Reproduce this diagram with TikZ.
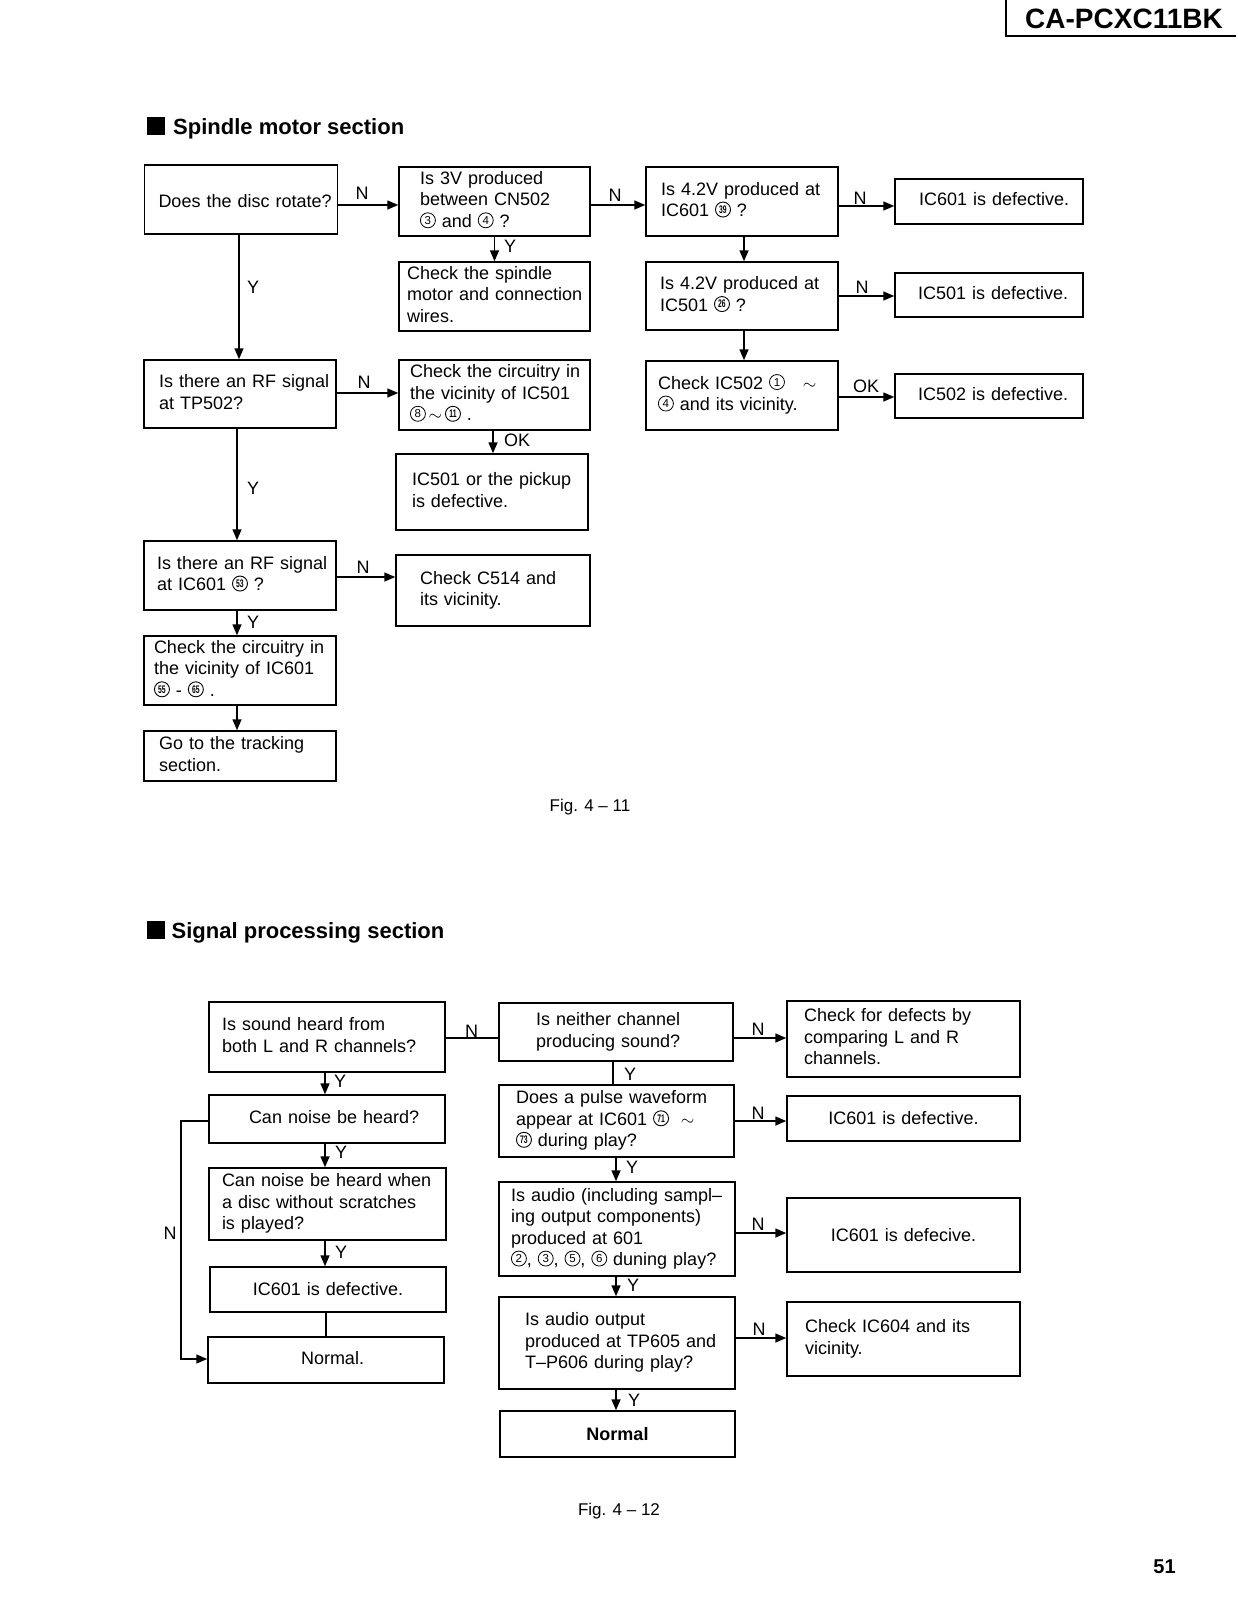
\documentclass[tikz,border=0pt]{standalone}
\usepackage{fontspec}
\setmainfont{Liberation Sans}
\usetikzlibrary{arrows.meta}
\newcommand\bodyfont{\fontsize{18}{21.5}\selectfont}
\newcommand\lines[1]{\noindent\begin{tabular}{@{}l@{}}#1\end{tabular}}
\newcommand\cnum[1]{\tikz[baseline={([yshift=-7pt]cc.center)}]\node[circle,draw,line width=0.8pt,inner sep=0pt,minimum size=15pt,text width=,align=center,anchor=center,font=\fontsize{11.5}{11.5}\selectfont](cc){#1};}
\newcommand\cnn[1]{\tikz[baseline={([yshift=-7pt]cc.center)}]\node[circle,draw,line width=0.9pt,inner sep=0pt,minimum size=15pt,text width=,align=center,anchor=center,font=\bfseries\fontsize{11}{11}\selectfont](cc){\scalebox{0.62}[1]{#1}};}
\tikzset{
  bx/.code n args={3}{\pgfmathsetmacro\tw{#1-2*#3}\edef\tmp{\noexpand\tikzset{text width=\tw pt}}\tmp
    \tikzset{draw,line width=1.5pt,rectangle,minimum width=#1pt,minimum height=#2pt,inner xsep=#3pt,inner ysep=1pt,align=left,font=\bodyfont}},
  cbx/.code 2 args={\pgfmathsetmacro\tw{#1-12}\edef\tmp{\noexpand\tikzset{text width=\tw pt}}\tmp
    \tikzset{draw,line width=1.5pt,rectangle,minimum width=#1pt,minimum height=#2pt,inner xsep=6pt,inner ysep=1pt,align=center,font=\bodyfont}},
  arr/.style={line width=1.5pt,-{Triangle[length=11pt,width=9pt]}},
  conn/.style={line width=1.5pt},
  lab/.style={font=\bodyfont,inner sep=0pt},
  ttl/.style={anchor=base west,inner sep=0pt,font=\bfseries\fontsize{22}{26}\selectfont},
  sq/.style={fill=black,minimum size=18pt,inner sep=0pt},
}
\begin{document}
\begin{tikzpicture}[x=1pt,y=-1pt]
\useasboundingbox (0,0) rectangle (1237,1600);

% header
\draw[line width=1.2pt] (1006,0) -- (1006,36) -- (1236,36);
\node[inner sep=0pt,font=\bfseries\fontsize{28}{30}\selectfont] (hdr) at (1124,19) {CA-PCXC11BK};

% ---------- Spindle motor section ----------
\node[sq] (sq1) at (156,126.5) {};
\node[ttl] (t1) at (173,134.5) {Spindle motor section};

\node[bx={193}{69}{14}] (A) at (241,199.5) {\lines{\raisebox{-4pt}{Does the disc rotate?}}};
\node[bx={191}{69}{21}] (B) at (494.5,201.5) {\lines{Is 3V produced\\between CN502\\\cnum{3} and \cnum{4} ?}};
\node[bx={191}{69}{8}] (C) at (494.5,296.5) {\lines{Check the spindle\\motor and connection\\wires.}};
\node[bx={192}{68}{15}] (D) at (240,394) {\lines{Is there an RF signal\\at TP502?}};
\node[bx={191}{70}{11}] (E) at (494.5,395) {\lines{Check the circuitry in\\the vicinity of IC501\\\cnum{8}$\,\sim\,$\cnn{11} .}};
\node[bx={192}{76}{16}] (M) at (492,492) {\lines{IC501 or the pickup\\is defective.}};
\node[bx={192}{69}{13}] (L) at (240,575.5) {\lines{Is there an RF signal\\at IC601 \cnn{53} ?}};
\node[bx={194}{71}{24}] (N) at (493,590.5) {\lines{Check C514 and\\its vicinity.}};
\node[bx={192}{69}{10}] (O) at (240,670.5) {\lines{Check the circuitry in\\the vicinity of IC601\\\cnn{55} - \cnn{65} .}};
\node[bx={192}{50}{15}] (P) at (240,756) {\lines{Go to the tracking\\section.}};
\node[bx={192}{69}{15}] (F) at (742,201.5) {\lines{Is 4.2V produced at\\IC601 \cnn{39} ?}};
\node[bx={188}{45}{24}] (G) at (989,201.5) {\lines{IC601 is defective.}};
\node[bx={192}{68}{14}] (H) at (742,296) {\lines{Is 4.2V produced at\\IC501 \cnn{26} ?}};
\node[bx={188}{44}{23}] (I) at (989,295) {\lines{IC501 is defective.}};
\node[bx={192}{69}{12}] (J) at (742,395.5) {\lines{Check IC502 \cnum{1} \ \ $\sim$\\\cnum{4} and its vicinity.}};
\node[bx={188}{44}{23}] (K) at (989,396) {\lines{IC502 is defective.}};

\draw[arr] ([yshift=-5.5pt]A.east) -- ([yshift=-3.5pt]B.west);
\draw[arr] ([yshift=-3.5pt]B.east) -- ([yshift=-3.5pt]F.west);
\draw[arr] ([yshift=-4.5pt]F.east) -- ([yshift=-4.5pt]G.west);
\draw[arr] (H.east) -- ([yshift=-1pt]I.west);
\draw[arr] ([yshift=-1.5pt]J.east) -- ([yshift=-1pt]K.west);
\draw[arr] ([xshift=2pt]F.south) -- ([xshift=2pt]H.north);
\draw[arr] ([xshift=2pt]H.south) -- ([xshift=2pt]J.north);
\draw[arr] (B.south) -- (C.north);
\draw[arr] ([xshift=-2pt]A.south) -- ([xshift=-1pt]D.north);
\draw[arr] ([yshift=1pt]D.east) -- ([yshift=2pt]E.west);
\draw[arr] ([xshift=-1.5pt]E.south) -- ([xshift=1pt]M.north);
\draw[arr] ([xshift=-3pt]D.south) -- ([xshift=-3pt]L.north);
\draw[arr] ([yshift=-1.5pt]L.east) -- ([yshift=13.5pt]N.west);
\draw[arr] ([xshift=-3pt]L.south) -- ([xshift=-3pt]O.north);
\draw[arr] ([xshift=-3pt]O.south) -- ([xshift=-3pt]P.north);

\node[lab] (l1) at (362,193) {N};
\node[lab] (l2) at (615,195) {N};
\node[lab] (l3) at (860,198) {N};
\node[lab] (l4) at (862,287) {N};
\node[lab] (l5) at (866,386) {OK};
\node[lab] (l6) at (510,246) {Y};
\node[lab] (l7) at (253,287) {Y};
\node[lab] (l8) at (364,382) {N};
\node[lab] (l9) at (517,440) {OK};
\node[lab] (l10) at (253,488) {Y};
\node[lab] (l11) at (363,567) {N};
\node[lab] (l12) at (253,622) {Y};

\node[lab,font=\fontsize{17}{20}\selectfont] (fig1) at (590,807) {Fig. 4 -- 11};

% ---------- Signal processing section ----------
\node[sq] (sq2) at (155.5,930) {};
\node[ttl] (t2) at (171.5,938) {Signal processing section};

\node[bx={236}{70}{13}] (S1) at (327,1037) {\lines{Is sound heard from\\both L and R channels?}};
\node[bx={236}{48}{40}] (S2) at (327,1119) {\lines{Can noise be heard?}};
\node[bx={237}{72}{13}] (S3) at (327.5,1204) {\lines{Can noise be heard when\\a disc without scratches\\is played?}};
\node[cbx={236}{45}] (S4) at (328,1289.5) {IC601 is defective.};
\node[bx={236}{46}{93}] (S5) at (326,1360) {\lines{Normal.}};
\node[bx={234}{58}{37}] (R1) at (616,1032) {\lines{Is neither channel\\producing sound?}};
\node[bx={235}{72}{17}] (R2) at (616.5,1121) {\lines{Does a pulse waveform\\appear at IC601 \cnn{71} \ $\sim$\\\cnn{73} during play?}};
\node[bx={236}{94}{12}] (R3) at (617,1229) {\lines{Is audio (including sampl--\\ing output components)\\produced at 601\\\cnum{2}, \cnum{3}, \cnum{5}, \cnum{6} duning play?}};
\node[bx={236}{92}{26}] (R4) at (617,1343) {\lines{Is audio output\\produced at TP605 and\\T--P606 during play?}};
\node[cbx={235}{46}] (R5) at (617.5,1434) {\bfseries Normal};
\node[bx={233}{76}{17}] (T1) at (903.5,1039) {\lines{Check for defects by\\comparing L and R\\channels.}};
\node[cbx={233}{45}] (T2) at (903.5,1118.5) {IC601 is defective.};
\node[cbx={233}{74}] (T3) at (903.5,1235) {IC601 is defecive.};
\node[bx={233}{74}{18}] (T4) at (903.5,1339) {\lines{Check IC604 and its\\vicinity.}};

\draw[conn] ([yshift=-1pt]S1.east) -- ([yshift=-6pt]R1.west);
\draw[arr] ([yshift=-6pt]R1.east) -- ([yshift=1pt]T1.west);
\draw[conn] ([xshift=-3pt]R1.south) -- ([xshift=-3.5pt]R2.north);
\draw[arr] (R2.east) -- ([yshift=-2.5pt]T2.west);
\draw[arr] ([xshift=-0.5pt]R2.south) -- ([xshift=-1pt]R3.north);
\draw[arr] ([yshift=-4pt]R3.east) -- ([yshift=2pt]T3.west);
\draw[arr] ([xshift=-1pt]R3.south) -- ([xshift=-1pt]R4.north);
\draw[arr] ([yshift=5pt]R4.east) -- ([yshift=1pt]T4.west);
\draw[arr] ([xshift=-1pt]R4.south) -- ([xshift=-1.5pt]R5.north);
\draw[arr] ([xshift=-2pt]S1.south) -- ([xshift=-2pt]S2.north);
\draw[arr] ([xshift=-2pt]S2.south) -- ([xshift=-2.5pt]S3.north);
\draw[arr] ([xshift=-2.5pt]S3.south) -- ([xshift=-3pt]S4.north);
\draw[conn] ([xshift=-2pt]S4.south) -- (S5.north);
\coordinate (nl) at (181,1240);
\draw[arr] ([yshift=-2pt]S2.west) -| (nl) |- ([yshift=1pt]S5.west);

\node[lab] (m1) at (471.5,1031) {N};
\node[lab] (m2) at (758,1029) {N};
\node[lab] (m3) at (630,1074) {Y};
\node[lab] (m4) at (758,1113.5) {N};
\node[lab] (m5) at (632,1167.5) {Y};
\node[lab] (m6) at (758,1224) {N};
\node[lab] (m7) at (633,1285) {Y};
\node[lab] (m8) at (759,1329) {N};
\node[lab] (m9) at (634,1400) {Y};
\node[lab] (m10) at (340,1081) {Y};
\node[lab] (m11) at (341,1152) {Y};
\node[lab] (m12) at (341,1252) {Y};
\node[lab] (m13) at (170,1233) {N};

\node[lab,font=\fontsize{17}{20}\selectfont] (fig2) at (619,1511) {Fig. 4 -- 12};
\node[inner sep=0pt,anchor=base,font=\bfseries\fontsize{20}{24}\selectfont] (pg) at (1164.5,1573) {51};
\end{tikzpicture}
\end{document}
